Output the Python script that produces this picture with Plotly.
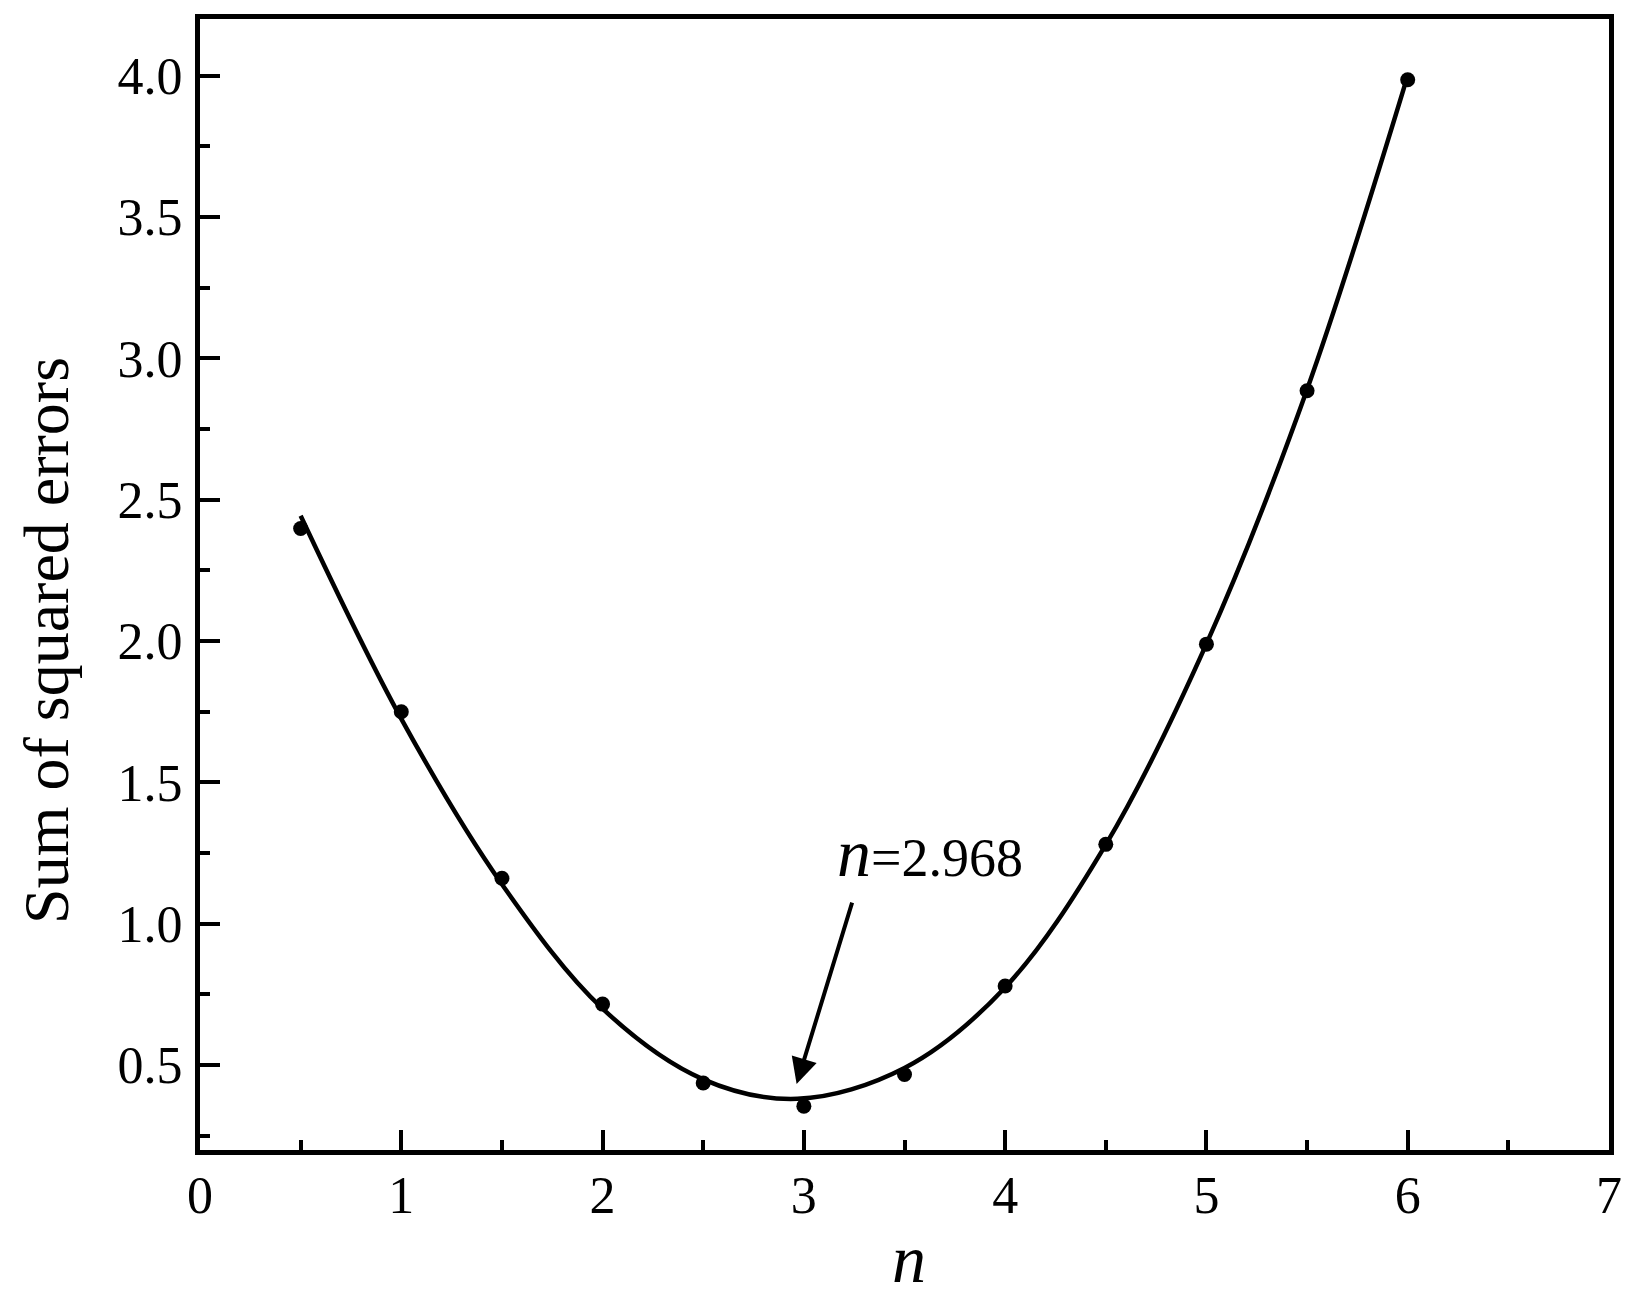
import plotly.graph_objects as go

# measured points
n_points = [0.5, 1.0, 1.5, 2.0, 2.5, 3.0, 3.5, 4.0, 4.5, 5.0, 5.5, 6.0]
sse_points = [2.398, 1.750, 1.161, 0.716, 0.437, 0.355, 0.467, 0.780, 1.281, 1.989, 2.885, 3.985]

# fitted curve
n_fit = [0.5, 1.0, 1.5, 2.0, 2.5, 2.968, 3.5, 4.0, 4.5, 5.0, 5.5, 6.0]
sse_fit = [2.443, 1.725, 1.140, 0.700, 0.450, 0.381, 0.490, 0.775, 1.280, 1.990, 2.890, 4.000]

n_opt = 2.968
arrow_tip = (2.964, 0.433)
arrow_tail = (3.242, 1.080)
label_pos = (3.155, 1.250)

font_family = "Liberation Serif, Times New Roman, serif"
big_n = '<span style="font-size:68px"><i>n</i></span>'

fig = go.Figure()

fig.add_trace(go.Scatter(
    x=n_fit, y=sse_fit, mode='lines',
    line=dict(color='black', width=4.5, shape='spline', smoothing=1.0),
    showlegend=False, hoverinfo='skip'))

fig.add_trace(go.Scatter(
    x=n_points, y=sse_points, mode='markers',
    marker=dict(color='black', size=15),
    showlegend=False))

# arrow pointing at the minimum
fig.add_annotation(
    x=arrow_tip[0], y=arrow_tip[1], ax=arrow_tail[0], ay=arrow_tail[1],
    xref='x', yref='y', axref='x', ayref='y',
    text='', showarrow=True, arrowhead=2, arrowsize=1.3, arrowwidth=4,
    arrowcolor='black', standoff=0, startstandoff=0)

fig.add_annotation(
    x=label_pos[0], y=label_pos[1], xref='x', yref='y',
    xanchor='left', yanchor='middle',
    text=f'{big_n}={n_opt}', showarrow=False,
    font=dict(family=font_family, size=54, color='black'))

# axis titles as paper annotations so they sit where the original has them
fig.add_annotation(
    x=-0.1086, y=0.451, xref='paper', yref='paper', textangle=-90,
    xanchor='center', yanchor='middle',
    text='Sum of squared errors', showarrow=False,
    font=dict(family=font_family, size=64, color='black'))

fig.add_annotation(
    x=0.503, y=-0.1317, xref='paper', yref='paper',
    xanchor='center', yanchor='bottom',
    text='<i>n</i>', showarrow=False,
    font=dict(family=font_family, size=68, color='black'))

axis_common = dict(
    showline=True, linecolor='black', linewidth=5, mirror=True,
    ticks='inside', ticklen=20, tickwidth=4, tickcolor='black',
    showgrid=False, zeroline=False, automargin=False,
    tickfont=dict(family=font_family, size=52, color='black'),
)

fig.update_xaxes(
    range=[0, 7], dtick=1, tick0=0,
    minor=dict(dtick=0.5, ticks='inside', ticklen=10, tickwidth=4, tickcolor='black'),
    ticklabelstandoff=-4,
    **axis_common)

fig.update_yaxes(
    range=[0.2, 4.2], dtick=0.5, tick0=0, tickformat='.1f',
    minor=dict(dtick=0.25, tick0=0, ticks='inside', ticklen=10, tickwidth=4, tickcolor='black'),
    ticklabelstandoff=2,
    **axis_common)

# the page body adds an 8px margin, so the figure is sized and padded for that
fig.update_layout(
    width=1630, height=1292,
    margin=dict(l=192, r=29, t=11, b=150),
    plot_bgcolor='white', paper_bgcolor='white',
)

fig.write_html("out.html")
